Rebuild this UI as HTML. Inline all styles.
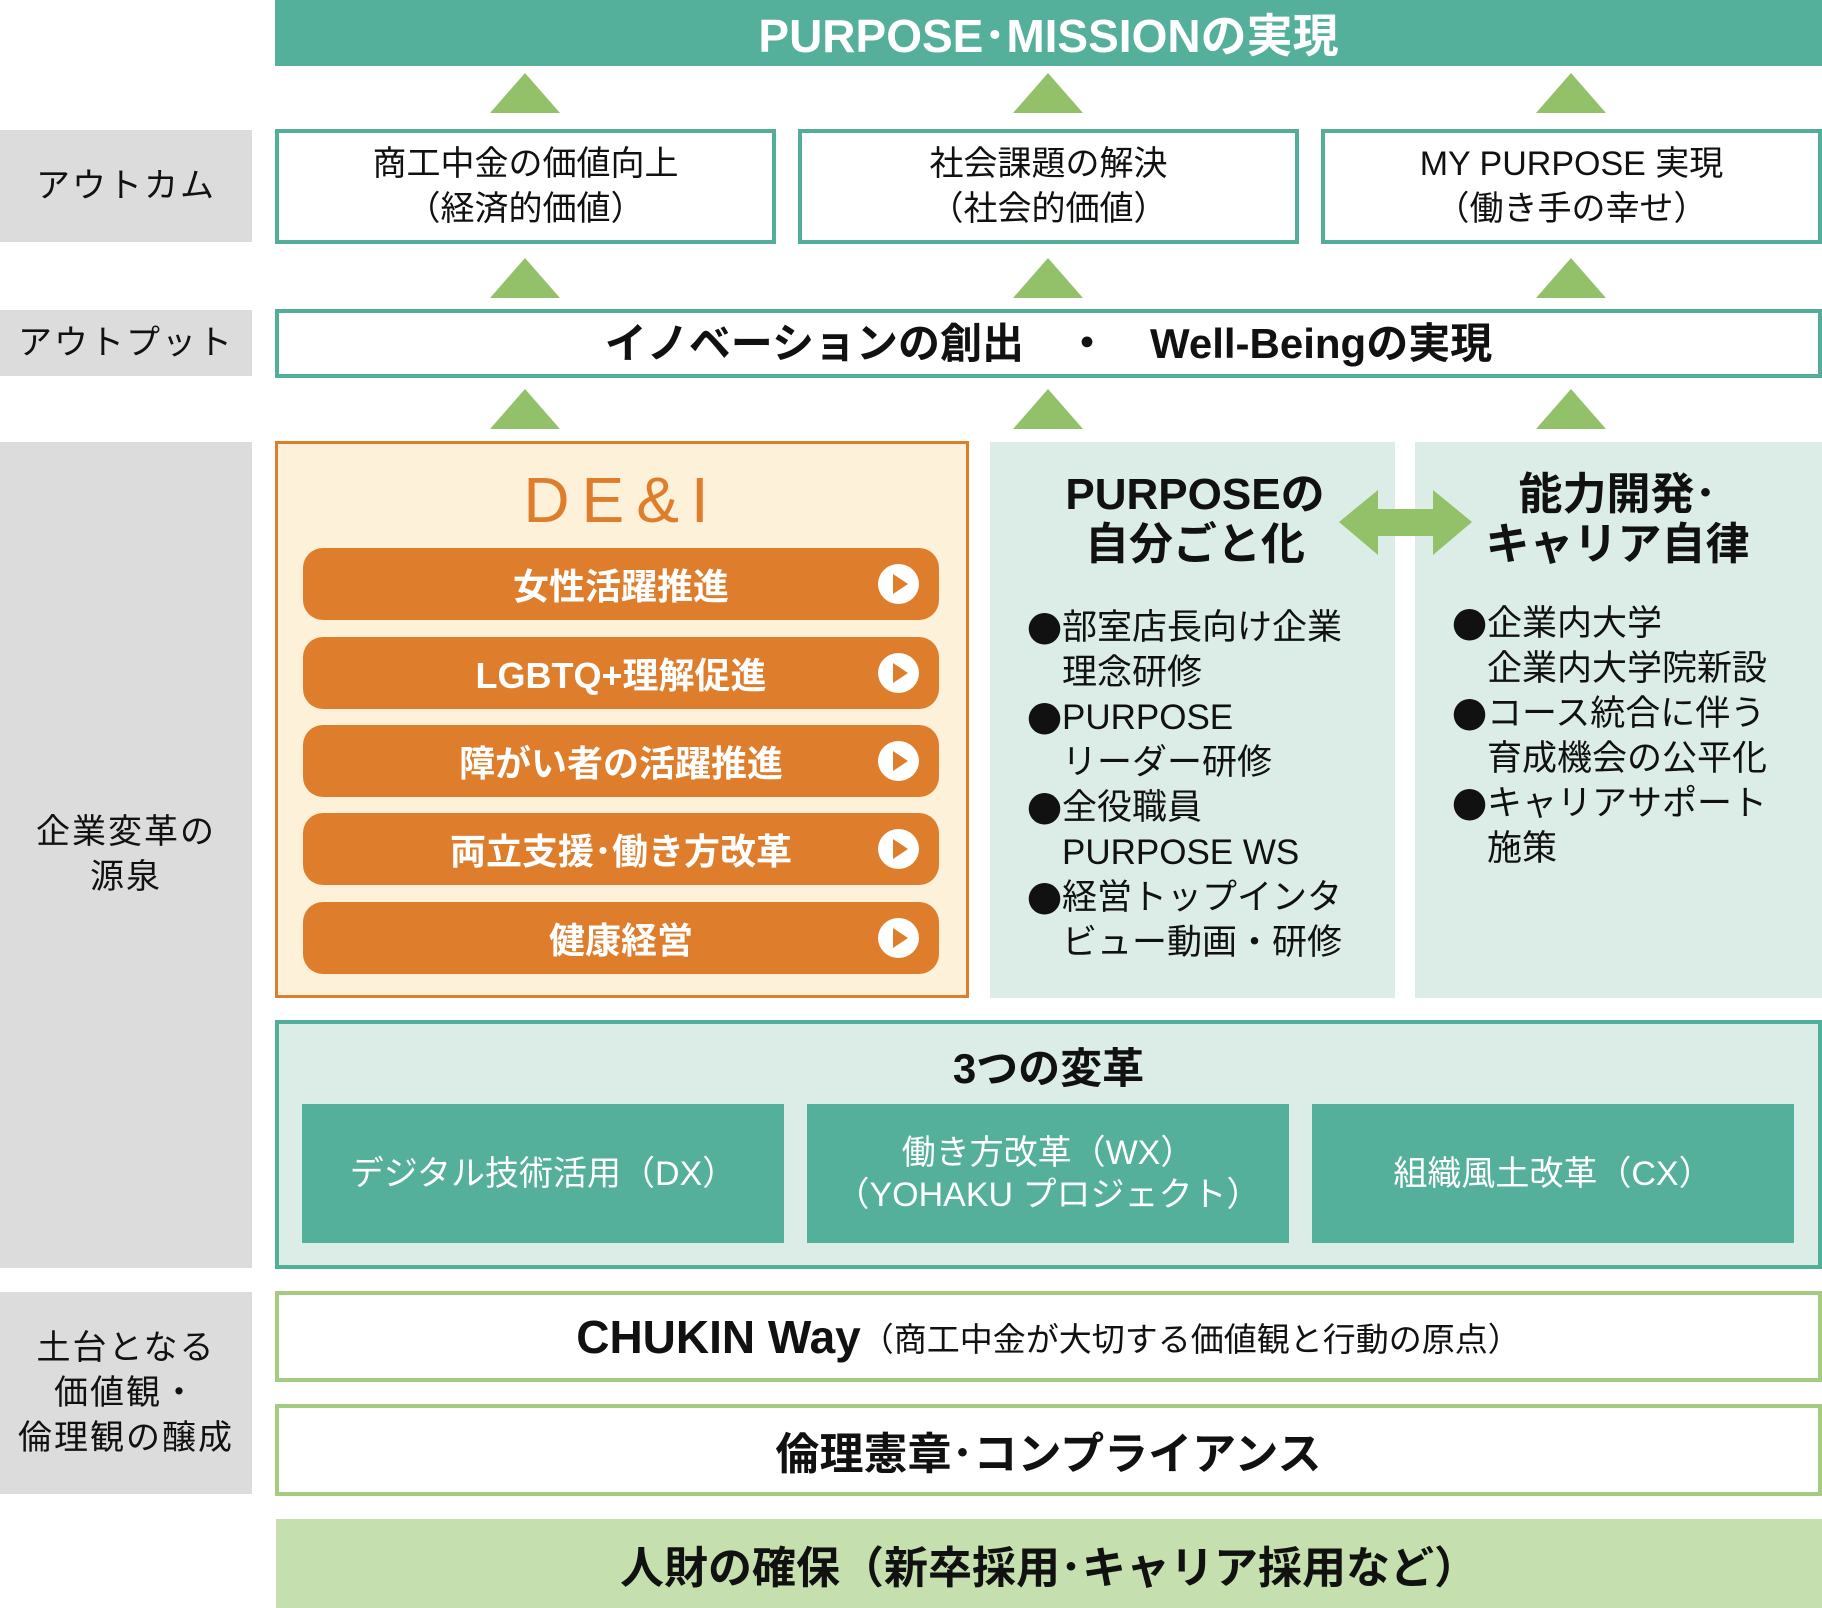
<!DOCTYPE html>
<html><head><meta charset="utf-8"><style>
*{margin:0;padding:0;box-sizing:border-box}
body{width:1822px;height:1608px;background:#fff;position:relative;overflow:hidden;font-family:"Liberation Sans","Noto Sans CJK JP",sans-serif;color:#111}
.a{position:absolute}
.c{display:flex;align-items:center;justify-content:center;text-align:center}
.gray{background:#dcdcdc;font-size:34px;line-height:45px;letter-spacing:2px}
.tri{position:absolute;width:0;height:0;border-left:35px solid transparent;border-right:35px solid transparent;border-bottom:40px solid #93c16a}
.ob{border:4px solid #52ae98;background:#fff;font-size:34px;line-height:45px}
.btn{position:absolute;left:303px;width:636px;height:72px;background:#de7d2c;border-radius:20px;color:#fff;font-weight:bold;font-size:36px;display:flex;align-items:center;justify-content:center}
.btn .p{position:absolute;left:575px;top:16px;width:41px;height:40px;border-radius:50%;background:#fff}
.btn .p:after{content:"";position:absolute;left:15px;top:10px;border-top:10px solid transparent;border-bottom:10px solid transparent;border-left:15px solid #de7d2c}
.panel{background:#dcece6}
.bul{position:absolute;font-size:35px}
.bul div{height:45px;line-height:45px;white-space:nowrap}
.bul b{font-family:"Noto Sans CJK JP",sans-serif;font-weight:normal;display:inline-block;width:35px;height:45px;line-height:45px;vertical-align:top;overflow:hidden}
.sub{position:absolute;top:1104px;height:139px;background:#54af9b;color:#fff;font-size:34px;line-height:42px}
.gb{border:4px solid #a5cb83;background:#fff}
</style></head><body>
<div class="a c" style="left:275px;top:0;width:1547px;height:66px;background:#54af9b;color:#fff;font-weight:bold;font-size:46px">PURPOSE･MISSIONの実現</div>
<div class="tri" style="left:490px;top:73px"></div><div class="tri" style="left:1013px;top:73px"></div><div class="tri" style="left:1536px;top:73px"></div>
<div class="a c gray" style="left:0;top:130px;width:252px;height:112px">アウトカム</div>
<div class="a c ob" style="left:275px;top:129px;width:501px;height:115px">商工中金の価値向上<br>（経済的価値）</div>
<div class="a c ob" style="left:798px;top:129px;width:501px;height:115px">社会課題の解決<br>（社会的価値）</div>
<div class="a c ob" style="left:1321px;top:129px;width:501px;height:115px">MY PURPOSE 実現<br>（働き手の幸せ）</div>
<div class="tri" style="left:490px;top:258px"></div><div class="tri" style="left:1013px;top:258px"></div><div class="tri" style="left:1536px;top:258px"></div>
<div class="a c gray" style="left:0;top:310px;width:252px;height:66px">アウトプット</div>
<div class="a c ob" style="left:275px;top:309px;width:1547px;height:69px;font-weight:bold;font-size:42px">イノベーションの創出　・　Well-Beingの実現</div>
<div class="tri" style="left:490px;top:389px"></div><div class="tri" style="left:1013px;top:389px"></div><div class="tri" style="left:1536px;top:389px"></div>
<div class="a c gray" style="left:0;top:442px;width:252px;height:826px">企業変革の<br>源泉</div>
<div class="a" style="left:275px;top:441px;width:694px;height:557px;background:#fdf2d9;border:3px solid #de7d2c"></div>
<div class="a c" style="left:275px;top:460px;width:694px;height:80px;color:#de7d2c;font-size:64px;letter-spacing:12px">DE&amp;I</div>
<div class="btn" style="top:548px">女性活躍推進<div class="p"></div></div>
<div class="btn" style="top:637px">LGBTQ+理解促進<div class="p"></div></div>
<div class="btn" style="top:725px">障がい者の活躍推進<div class="p"></div></div>
<div class="btn" style="top:813px">両立支援･働き方改革<div class="p"></div></div>
<div class="btn" style="top:902px">健康経営<div class="p"></div></div>
<div class="a panel" style="left:990px;top:442px;width:405px;height:556px"></div>
<div class="a panel" style="left:1415px;top:442px;width:407px;height:556px"></div>
<div class="a c" style="left:1000px;top:465px;width:390px;height:110px;font-weight:bold;font-size:44px;line-height:50px">PURPOSEの<br>自分ごと化</div>
<div class="a c" style="left:1430px;top:465px;width:375px;height:110px;font-weight:bold;font-size:44px;line-height:50px">能力開発･<br>キャリア自律</div>
<svg class="a" style="left:1330px;top:485px" width="150" height="75"><polygon points="9,37 48,5 48,24 103,24 103,5 142,37 103,70 103,51 48,51 48,70" fill="#93c16a"/></svg>
<div class="bul" style="left:1027px;top:605px"><div><b>●</b>部室店長向け企業</div><div><b></b>理念研修</div><div><b>●</b>PURPOSE</div><div><b></b>リーダー研修</div><div><b>●</b>全役職員</div><div><b></b>PURPOSE WS</div><div><b>●</b>経営トップインタ</div><div><b></b>ビュー動画・研修</div></div>
<div class="bul" style="left:1452px;top:601px"><div><b>●</b>企業内大学</div><div><b></b>企業内大学院新設</div><div><b>●</b>コース統合に伴う</div><div><b></b>育成機会の公平化</div><div><b>●</b>キャリアサポート</div><div><b></b>施策</div></div>
<div class="a" style="left:275px;top:1020px;width:1547px;height:249px;background:#dcece6;border:4px solid #52ae98"></div>
<div class="a c" style="left:275px;top:1035px;width:1547px;height:60px;font-weight:bold;font-size:42px">3つの変革</div>
<div class="sub c" style="left:302px;width:482px">デジタル技術活用（DX）</div>
<div class="sub c" style="left:807px;width:482px">働き方改革（WX）<br>（YOHAKU プロジェクト）</div>
<div class="sub c" style="left:1312px;width:482px">組織風土改革（CX）</div>
<div class="a c gray" style="left:0;top:1292px;width:252px;height:202px;line-height:45px">土台となる<br>価値観・<br>倫理観の醸成</div>
<div class="a c gb" style="left:275px;top:1291px;width:1547px;height:91px"><span style="font-weight:bold;font-size:46px">CHUKIN Way</span><span style="font-size:33px">（商工中金が大切する価値観と行動の原点）</span></div>
<div class="a c gb" style="left:275px;top:1404px;width:1547px;height:92px;font-weight:bold;font-size:44px">倫理憲章･コンプライアンス</div>
<div class="a c" style="left:276px;top:1519px;width:1546px;height:89px;background:#c5dfae;font-weight:bold;font-size:44px">人財の確保（新卒採用･キャリア採用など）</div>
</body></html>
